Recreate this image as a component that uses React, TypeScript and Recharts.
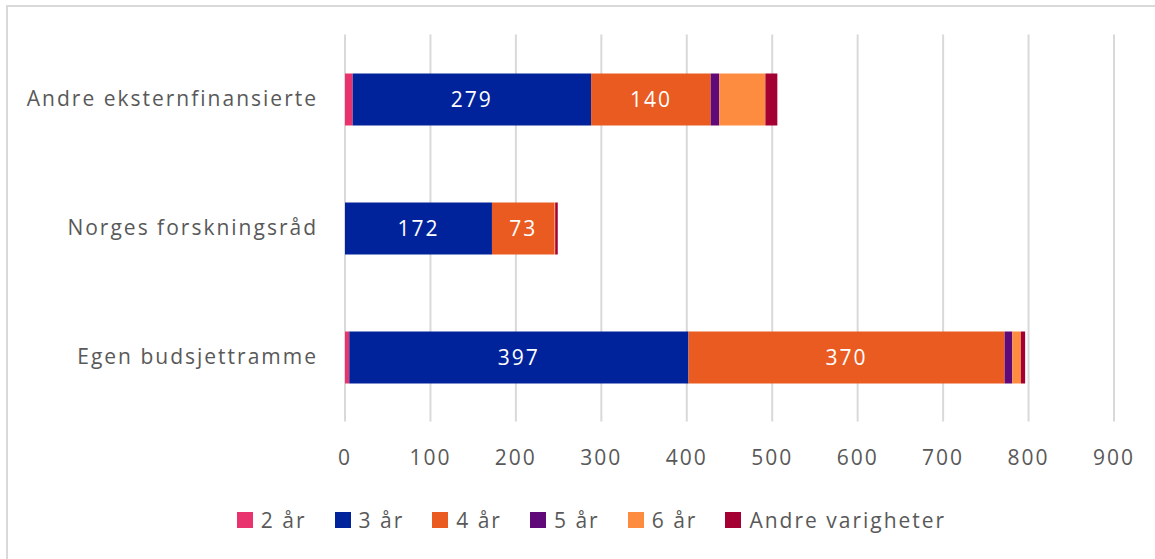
import React from 'react';
import { BarChart, Bar, XAxis, YAxis, CartesianGrid, LabelList } from 'recharts';

const categories = ['Andre eksternfinansierte', 'Norges forskningsråd', 'Egen budsjettramme'];
const seriesNames = ['2 år', '3 år', '4 år', '5 år', '6 år', 'Andre varigheter'];
const seriesColors = ['#E8336E', '#00239C', '#E95B20', '#5F0A78', '#FD8C40', '#A50034'];
const v2 = [9, 0, 5];
const v3 = [279, 172, 397];
const v4 = [140, 73, 370];
const v5 = [10, 0, 9];
const v6 = [54, 1, 10];
const vAndre = [14, 3, 5];
const xTicks = [0, 100, 200, 300, 400, 500, 600, 700, 800, 900];

const seriesValues = [v2, v3, v4, v5, v6, vAndre];
const data = categories.map((c, i) => {
  const row: Record<string, any> = { name: c };
  seriesNames.forEach((s, j) => {
    row[s] = seriesValues[j][i];
  });
  return row;
});

const FONT = '"Open Sans", sans-serif';
const TEXT = '#595959';
const LS = 2;

export default function App() {
  return (
    <div style={{ position: 'absolute', left: 0, top: 0, width: 1155, height: 559, background: '#fff', overflow: 'hidden', fontFamily: FONT }}>
      <div style={{ position: 'absolute', left: 6, top: 5, width: 1200, height: 600, borderLeft: '2px solid #d9d9d9', borderTop: '2px solid #d9d9d9' }} />
      <div style={{ position: 'absolute', left: 0, top: 0 }}>
        <BarChart
          width={1155}
          height={559}
          data={data}
          layout="vertical"
          margin={{ top: 34.5, right: 41, bottom: 77.5, left: 0 }}
          barCategoryGap={0}
        >
          <CartesianGrid horizontal={false} stroke="#d9d9d9" strokeWidth={2} />
          <XAxis
            type="number"
            domain={[0, 900]}
            ticks={xTicks}
            axisLine={false}
            tickLine={false}
            tickSize={0}
            tickMargin={29}
            height={60}
            tick={{ fill: TEXT, fontSize: 21, fontFamily: FONT, letterSpacing: LS }}
          />
          <YAxis
            type="category"
            dataKey="name"
            width={345}
            axisLine={false}
            tickLine={false}
            tickSize={0}
            tickMargin={27}
            tick={{ fill: TEXT, fontSize: 21, fontFamily: FONT, letterSpacing: LS }}
          />
          {seriesNames.map((s, j) => (
            <Bar key={s} dataKey={s} stackId="a" fill={seriesColors[j]} barSize={52} isAnimationActive={false}>
              {(j === 1 || j === 2) && (
                <LabelList
                  dataKey={s}
                  position="center"
                  fill="#ffffff"
                  fontSize={21}
                  fontFamily={FONT}
                  style={{ letterSpacing: LS }}
                />
              )}
            </Bar>
          ))}
        </BarChart>
      </div>
      <div style={{ position: 'absolute', top: 506, left: 0, width: 1155, boxSizing: 'border-box', paddingLeft: 28, display: 'flex', justifyContent: 'center', alignItems: 'center', color: TEXT, fontSize: 21, fontFamily: FONT, letterSpacing: LS }}>
        {seriesNames.map((s, j) => (
          <div key={s} style={{ display: 'flex', alignItems: 'center', marginRight: j < seriesNames.length - 1 ? 28 : 0 }}>
            <div style={{ width: 16, height: 16, background: seriesColors[j], marginRight: 8 }} />
            <span>{s}</span>
          </div>
        ))}
      </div>
    </div>
  );
}
